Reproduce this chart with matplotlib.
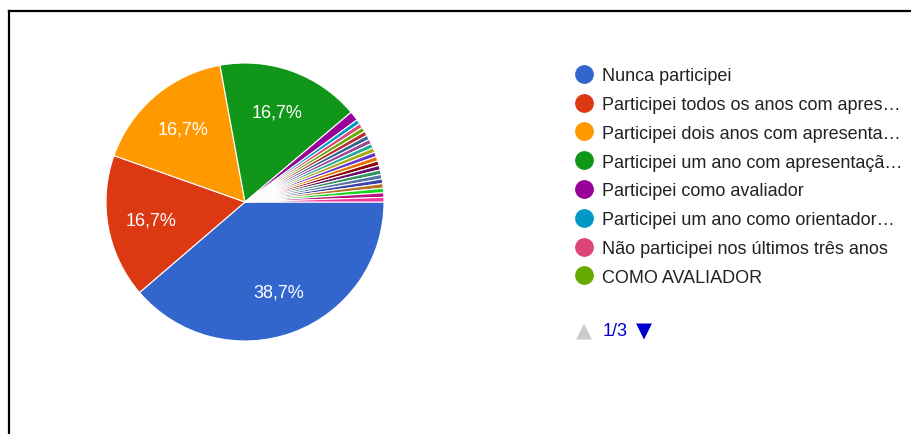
import matplotlib.pyplot as plt
from matplotlib.lines import Line2D

plt.rcParams['font.family'] = ['Liberation Sans', 'DejaVu Sans']

# Data (percent of answers)
labels = ['Nunca participei',
          'Participei todos os anos com apres…',
          'Participei dois anos com apresenta…',
          'Participei um ano com apresentaçã…',
          'Participei como avaliador',
          'Participei um ano como orientador…',
          'Não participei nos últimos três anos',
          'COMO AVALIADOR']
values = [38.7, 16.7, 16.7, 16.7, 1.1,
          0.53, 0.53, 0.53, 0.53, 0.53, 0.53, 0.53, 0.53, 0.53, 0.53,
          0.53, 0.53, 0.53, 0.53, 0.53, 0.53, 0.53, 0.53, 0.53]
colors = ['#3366cc', '#dc3912', '#ff9900', '#109618', '#990099', '#0099c6',
          '#dd4477', '#66aa00', '#b82e2e', '#316395', '#994499', '#22aa99',
          '#aaaa11', '#6633cc', '#e67300', '#8b0707', '#651067', '#329262',
          '#5574a6', '#3b3eac', '#b77322', '#16d620', '#b91383', '#f4359e']

W, H = 912, 435
fig = plt.figure(figsize=(W / 100, H / 100), dpi=100)

# pie: centre (245, 203) px, radius 139 px
cx, cy, r = 245, 203, 139
ax = fig.add_axes([(cx - r) / W, (H - cy - r) / H, 2 * r / W, 2 * r / H])


def fmt(p):
    return f'{p:.1f}%'.replace('.', ',') if p > 5 else ''


wedges, texts, autotexts = ax.pie(
    values, colors=colors, startangle=0, counterclock=False, radius=1,
    autopct=fmt, pctdistance=0.69,
    wedgeprops=dict(edgecolor='white', linewidth=0.8),
    textprops=dict(color='white', fontsize=13))
ax.set_xlim(-1, 1)
ax.set_ylim(-1, 1)
ax.set_aspect('equal')
ax.axis('off')

# legend (page 1 of 3)
handles = [Line2D([], [], marker='o', linestyle='none', markersize=12.5,
                  markerfacecolor=c, markeredgecolor=c)
           for c in colors[:len(labels)]]
fig.legend(handles, labels, loc='upper left',
           bbox_to_anchor=(567 / W, 1 - 59 / H), frameon=False,
           fontsize=13, labelspacing=0.655, handlelength=0.9,
           handletextpad=0.55, borderpad=0, labelcolor='#222222')

fig.text(584 / W, 1 - 331 / H, '▲', color='#cccccc', fontsize=15,
         ha='center', va='center', family='DejaVu Sans')
fig.text(603 / W, 1 - 332 / H, '1/3', color='#0000cc', fontsize=13,
         ha='left', va='center')
fig.text(644 / W, 1 - 331 / H, '▼', color='#0000cc', fontsize=15,
         ha='center', va='center', family='DejaVu Sans')

# screenshot frame
fig.add_artist(Line2D([9 / W, 1], [1 - 12 / H, 1 - 12 / H], color='black',
                      linewidth=1.6, transform=fig.transFigure))
fig.add_artist(Line2D([9 / W, 9 / W], [0, 1 - 12 / H], color='black',
                      linewidth=1.6, transform=fig.transFigure))

fig.savefig('out.png', dpi=100)
